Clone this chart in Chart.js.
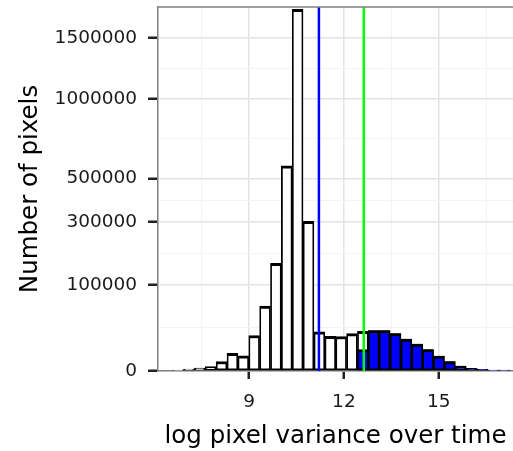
<!DOCTYPE html>
<html>
<head>
<meta charset="utf-8">
<script src="https://cdn.jsdelivr.net/npm/chart.js@4.4.1/dist/chart.umd.min.js"></script>
<style>
  html, body { margin: 0; padding: 0; background: #fff; }
  #wrap { width: 513px; height: 451px; position: relative; }
</style>
</head>
<body>
<div id="wrap"><canvas id="histChart"></canvas></div>
<script>
// Bin centres (log pixel variance over time)
const binCentres = [6.754, 7.098, 7.442, 7.786, 8.130, 8.474, 8.818, 9.162, 9.506, 9.850,
                    10.193, 10.537, 10.881, 11.225, 11.569, 11.913, 12.257, 12.601, 12.945, 13.289,
                    13.633, 13.977, 14.321, 14.664, 15.008, 15.352, 15.696, 16.040, 16.384, 16.728, 17.072];

// Number of pixels in each bin (all pixels)
const allCounts = [14, 44, 122, 274, 1219, 4231, 3121, 17020, 57060, 156700,
                   569300, 1767000, 302700, 20860, 16260, 16080, 18890, 21290, 22150, 22150,
                   18990, 13830, 9846, 6243, 3039, 1168, 338, 98, 39, 14, 14];

// Pixels past the green threshold (blue bars)
const aboveCounts = [null, null, null, null, null, null, null, null, null, null,
                     null, null, null, null, null, null, null, 6243, 22150, 22150,
                     18990, 13830, 9846, 6243, 3039, 1168, 338, 98, 39, 14, 14];

// Threshold lines
const blueLineX = 11.21;
const greenLineX = 12.63;

// Axis ticks
const yTicks = [0, 100000, 300000, 500000, 1000000, 1500000];
const yMinorTicks = [25000, 186600, 393700, 728600, 1237400];
const xTicks = [9, 12, 15];
const xMinorTicks = [7.5, 10.5, 13.5, 16.5];

const yMax = 1790000;

Chart.defaults.font.family = '"DejaVu Sans", sans-serif';
Chart.defaults.color = '#1a1a1a';

// Square-root y scale (like scale_y_sqrt)
class SqrtScale extends Chart.LinearScale {
    getPixelForValue(value) {
        if (value === null || value === undefined || isNaN(value)) return NaN;
        const lo = Math.sqrt(Math.max(this.min, 0));
        const hi = Math.sqrt(this.max);
        return this.getPixelForDecimal((Math.sqrt(Math.max(value, 0)) - lo) / (hi - lo));
    }
    getValueForPixel(pixel) {
        const lo = Math.sqrt(Math.max(this.min, 0));
        const hi = Math.sqrt(this.max);
        const s = lo + this.getDecimalForPixel(pixel) * (hi - lo);
        return s * s;
    }
}
SqrtScale.id = 'sqrt';
SqrtScale.defaults = {};
Chart.register(SqrtScale);

function makeTicks(major, minor) {
    return major.map(v => ({ value: v }))
        .concat(minor.map(v => ({ value: v, minor: true })))
        .sort((a, b) => a.value - b.value);
}

const gridColor = ctx => (ctx.tick && ctx.tick.minor) ? '#f3f3f3' : '#e4e4e4';
const gridWidth = ctx => (ctx.tick && ctx.tick.minor) ? 1 : 1.5;
const tickColor = ctx => (ctx.tick && ctx.tick.minor) ? 'rgba(0,0,0,0)' : '#222';

// Panel border on top (the right side is cut off in the picture)
const panelTop = {
    id: 'panelTop',
    afterDatasetsDraw(chart) {
        const { ctx, chartArea } = chart;
        ctx.save();
        ctx.strokeStyle = '#808080';
        ctx.lineWidth = 1.5;
        ctx.beginPath();
        ctx.moveTo(chartArea.left, chartArea.top);
        ctx.lineTo(chartArea.right, chartArea.top);
        ctx.stroke();
        ctx.restore();
    }
};

const barBorder = { top: 3, left: 1.75, right: 1.75, bottom: 2 };

new Chart(document.getElementById('histChart'), {
    type: 'bar',
    data: {
        datasets: [{
            type: 'line',
            data: [{ x: blueLineX, y: 0 }, { x: blueLineX, y: yMax }],
            borderColor: '#0000ff',
            borderWidth: 2.5,
            pointRadius: 0,
            order: 0
        }, {
            type: 'line',
            data: [{ x: greenLineX, y: 0 }, { x: greenLineX, y: yMax }],
            borderColor: '#00ff00',
            borderWidth: 2.5,
            pointRadius: 0,
            order: 0
        }, {
            label: 'above threshold',
            data: binCentres.map((x, i) => ({ x: x, y: aboveCounts[i] })),
            backgroundColor: '#0000ff',
            borderColor: '#000000',
            borderWidth: barBorder,
            borderSkipped: false,
            barPercentage: 1,
            categoryPercentage: 1,
            grouped: false,
            order: 1
        }, {
            label: 'all pixels',
            data: binCentres.map((x, i) => ({ x: x, y: allCounts[i] })),
            backgroundColor: '#ffffff',
            borderColor: '#000000',
            borderWidth: barBorder,
            borderSkipped: false,
            barPercentage: 1,
            categoryPercentage: 1,
            grouped: false,
            order: 2
        }]
    },
    options: {
        responsive: true,
        maintainAspectRatio: false,
        animation: false,
        layout: { padding: { top: 7, right: 0, bottom: 0, left: 0 } },
        plugins: {
            legend: { display: false },
            tooltip: { enabled: false }
        },
        scales: {
            x: {
                type: 'linear',
                min: 6.12,
                max: 17.35,
                offset: false,
                afterBuildTicks: scale => { scale.ticks = makeTicks(xTicks, xMinorTicks); },
                afterFit: scale => {
                    scale.height = 80;
                    scale.paddingLeft = 0;
                    scale.paddingRight = 0;
                },
                ticks: {
                    autoSkip: false,
                    maxRotation: 0,
                    padding: 12,
                    font: { size: 18.5 },
                    callback: value => xTicks.includes(value) ? String(value) : ''
                },
                grid: {
                    offset: false,
                    color: gridColor,
                    lineWidth: gridWidth,
                    tickColor: tickColor,
                    tickWidth: 2.5,
                    tickLength: 8
                },
                border: { display: true, color: '#808080', width: 1.5 },
                title: {
                    display: true,
                    text: 'log pixel variance over time',
                    color: '#000',
                    font: { size: 24.5 },
                    padding: { top: 0, bottom: 0 }
                }
            },
            y: {
                type: 'sqrt',
                min: 0,
                max: yMax,
                afterBuildTicks: scale => { scale.ticks = makeTicks(yTicks, yMinorTicks); },
                afterFit: scale => {
                    scale.width = 158;
                    scale.paddingTop = 0;
                    scale.paddingBottom = 0;
                },
                ticks: {
                    autoSkip: false,
                    padding: 11,
                    font: { size: 18.5 },
                    callback: value => yTicks.includes(value) ? String(value) : ''
                },
                grid: {
                    color: gridColor,
                    lineWidth: gridWidth,
                    tickColor: tickColor,
                    tickWidth: 2.5,
                    tickLength: 10
                },
                border: { display: true, color: '#808080', width: 1.5 },
                title: {
                    display: true,
                    text: 'Number of pixels',
                    color: '#000',
                    font: { size: 24.5 },
                    padding: { top: 16, bottom: 0 }
                }
            }
        }
    },
    plugins: [panelTop]
});
</script>
</body>
</html>
